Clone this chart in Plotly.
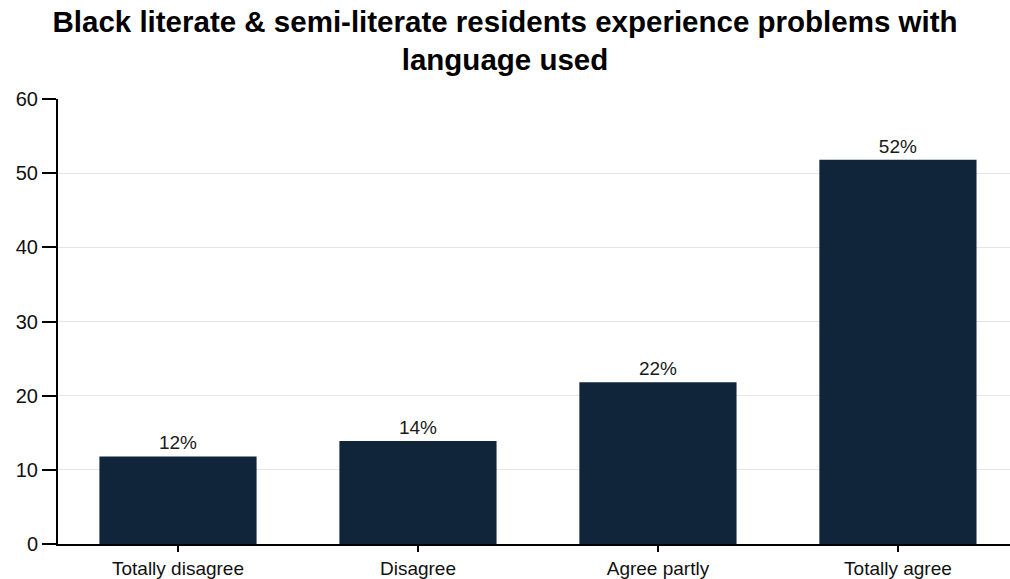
import plotly.graph_objects as go

categories = ["Totally disagree", "Disagree", "Agree partly", "Totally agree"]
values = [11.8, 13.9, 21.8, 51.8]
labels = ["12%", "14%", "22%", "52%"]
y_ticks = [0, 10, 20, 30, 40, 50, 60]

fig = go.Figure(go.Bar(
    x=categories, y=values, text=labels, textposition="outside",
    textfont=dict(size=19, color="#1a1a1a", family="Liberation Sans, Arial"),
    marker=dict(color="#10243a", line=dict(width=0)), width=0.655,
    cliponaxis=False,
))

fig.update_layout(
    width=1010, height=579,
    margin=dict(l=58, r=0, t=99, b=35),
    paper_bgcolor="white", plot_bgcolor="white",
    font=dict(family="Liberation Sans, Arial", color="#111"),
    title=dict(text="<b>Black literate & semi-literate residents experience problems with<br>language used</b>",
               x=0.5, xanchor="center", y=1 - 31.5 / 579, yanchor="middle",
               font=dict(size=29.5, color="#000")),
    showlegend=False,
)
fig.update_xaxes(range=[-0.5, 3.467], showline=True, linecolor="black", linewidth=2,
                 ticks="outside", ticklen=6, tickcolor="black", tickwidth=1.5,
                 tickfont=dict(size=19, color="#111"), showgrid=False, automargin=False)
fig.update_yaxes(range=[0, 60], tickvals=y_ticks, showline=True, linecolor="black", linewidth=2,
                 ticks="outside", ticklen=14, tickcolor="black", tickwidth=1.5,
                 tickfont=dict(size=20, color="#111"), showgrid=True, gridcolor="#e6e6e6",
                 gridwidth=1, zeroline=False, automargin=False)

fig.write_html("out.html")
